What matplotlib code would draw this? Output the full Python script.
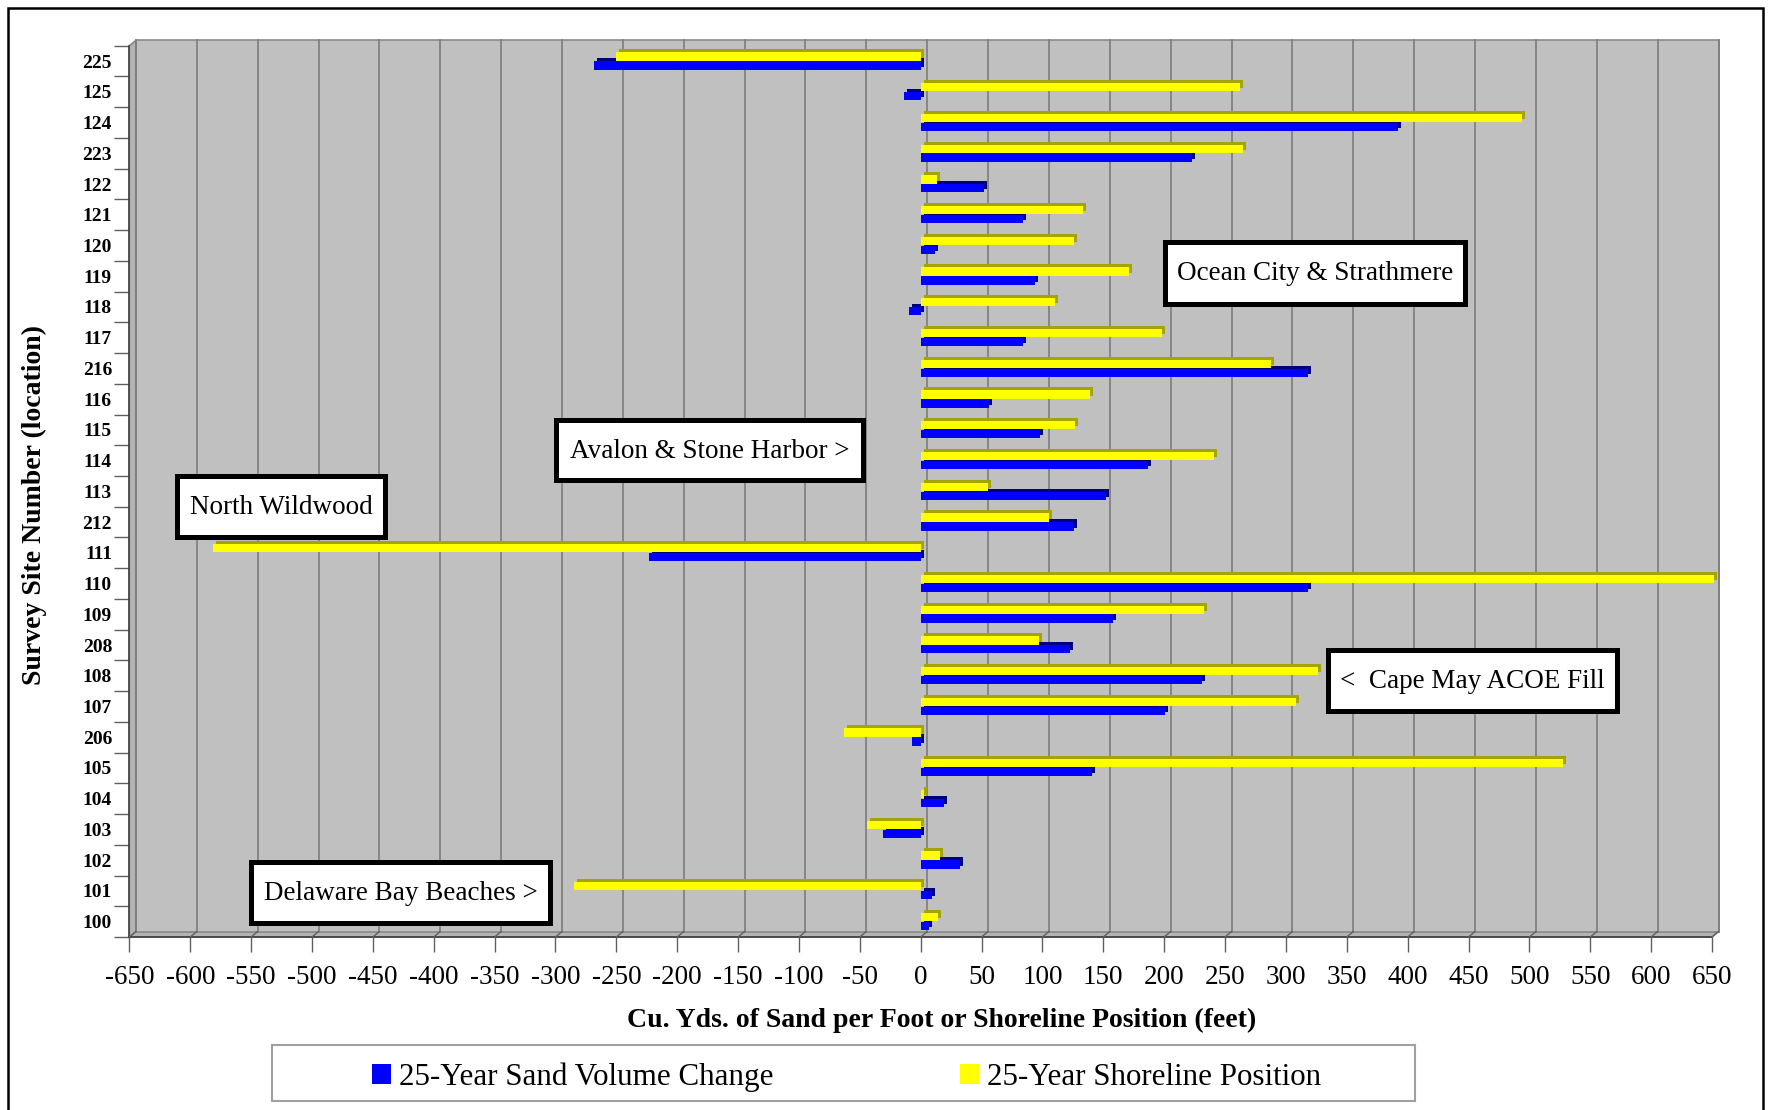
import matplotlib
matplotlib.use('Agg')
import matplotlib.pyplot as plt
import numpy as np
from matplotlib.patches import Rectangle, Polygon, Patch
from matplotlib.transforms import ScaledTranslation

# ---------------- data ----------------
sites = ['225', '125', '124', '223', '122', '121', '120', '119', '118', '117',
         '216', '116', '115', '114', '113', '212', '111', '110', '109', '208',
         '108', '107', '206', '105', '104', '103', '102', '101', '100']
sand_volume = [-268, -14, 392, 223, 52, 84, 12, 94, -10, 84,
               318, 56, 98, 187, 152, 126, -223, 318, 158, 123,
               231, 201, -7, 141, 19, -31, 32, 9, 7]
shoreline = [-250, 262, 494, 265, 13, 133, 126, 171, 110, 198,
             288, 139, 127, 241, 55, 105, -581, 652, 233, 97,
             326, 308, -63, 528, 3, -44, 16, -285, 14]
x_ticks = list(range(-650, 651, 50))
series_names = ['25-Year Sand Volume Change', '25-Year Shoreline Position']
x_title = 'Cu. Yds. of Sand per Foot or Shoreline Position (feet)'
y_title = 'Survey Site Number (location)'
notes = ['Ocean City & Strathmere', 'Avalon & Stone Harbor >', 'North Wildwood',
         '<  Cape May ACOE Fill', 'Delaware Bay Beaches >']

# ---------------- layout (pixels, from top-left) ----------------
W_PX, H_PX, DPI = 1769, 1110, 100
plt.rcParams['font.family'] = ['Liberation Serif', 'DejaVu Serif']

fig = plt.figure(figsize=(W_PX / DPI, H_PX / DPI), dpi=DPI)
fig.patch.set_facecolor('white')

def fx(x):
    return x / W_PX

def fy(y):
    return 1 - y / H_PX

L, R, T, B = 129.4, 1712.0, 45.7, 937.0
DX, DY = 6.5, 5.5

ax = fig.add_axes([fx(L), fy(B), fx(R) - fx(L), fy(T) - fy(B)])
ax.patch.set_visible(False)
ax.set_autoscale_on(False)
ax.set_xlim(-650, 650)
ax.set_ylim(len(sites) - 0.5, -0.5)

for k in ['top', 'right']:
    ax.spines[k].set_visible(False)
for k in ['bottom', 'left']:
    ax.spines[k].set_color('#404040')
    ax.spines[k].set_linewidth(1.2)

# back wall
wall_off = ax.transAxes + ScaledTranslation(DX / DPI, DY / DPI, fig.dpi_scale_trans)
ax.add_patch(Rectangle((0, 0), 1, 1, transform=wall_off, facecolor='#c0c0c0',
                       edgecolor='#8a8a8a', lw=1.2, zorder=0, clip_on=False))

# floor and left wall (3-D depth)
floor = Polygon([(fx(L), fy(B)), (fx(R), fy(B)), (fx(R + DX), fy(B - DY)), (fx(L + DX), fy(B - DY))],
                closed=True, transform=fig.transFigure, facecolor='#b4b4b4',
                edgecolor='#707070', lw=1.0, zorder=-1)
lwall = Polygon([(fx(L), fy(B)), (fx(L), fy(T)), (fx(L + DX), fy(T - DY)), (fx(L + DX), fy(B - DY))],
                closed=True, transform=fig.transFigure, facecolor='#b4b4b4',
                edgecolor='#808080', lw=1.0, zorder=-1)
fig.add_artist(floor)
fig.add_artist(lwall)

# gridlines on back wall + connectors on floor
grid_tr = ax.get_xaxis_transform() + ScaledTranslation(DX / DPI, DY / DPI, fig.dpi_scale_trans)
for v in x_ticks:
    ax.plot([v, v], [0, 1], transform=grid_tr, color='#7c7c7c', lw=1.2, zorder=1, clip_on=False)
    ax.annotate('', xy=(v, 0), xycoords=ax.get_xaxis_transform(),
                xytext=(DX, DY), textcoords='offset pixels',
                arrowprops=dict(arrowstyle='-', color='#606060', lw=1.0, shrinkA=0, shrinkB=0))

# bars with 3-D depth
y = np.arange(len(sites))
depth = ax.transData + ScaledTranslation(3 / DPI, 3 / DPI, fig.dpi_scale_trans)
ax.barh(y + 0.14, sand_volume, height=0.27, color='#00007a', transform=depth, zorder=3, clip_on=False)
ax.barh(y + 0.14, sand_volume, height=0.27, color='#0000ff', zorder=4, clip_on=False)
ax.barh(y - 0.15, shoreline, height=0.27, color='#a4a400', transform=depth, zorder=5, clip_on=False)
ax.barh(y - 0.15, shoreline, height=0.27, color='#ffff00', zorder=6, clip_on=False)

# ticks
ax.set_xticks(x_ticks)
ax.set_xticklabels([str(v) for v in x_ticks])
ax.tick_params(axis='x', which='major', length=11, width=1, color='#606060',
               labelsize=19.5, pad=9)
ax.set_yticks(y)
ax.set_yticklabels(sites, fontweight='bold')
ax.tick_params(axis='y', which='major', length=0, labelsize=14, pad=12.5)
ax.set_yticks(np.arange(-0.5, len(sites), 1.0), minor=True)
ax.tick_params(axis='y', which='minor', length=10.5, width=1, color='#606060')

# axis titles
fig.text(fx(942), fy(1020), x_title, ha='center', va='center', fontsize=20, fontweight='bold')
fig.text(fx(34), fy(505), y_title, ha='center', va='center', rotation=90,
         fontsize=20, fontweight='bold')

# annotation boxes (x0, x1, y0, y1) in px
boxes = [(1165, 1465, 242, 304),
         (556, 863, 420, 480),
         (177, 385, 476, 537),
         (1328, 1617, 650, 711),
         (251, 550, 862, 923)]
for txt, (x0, x1, y0, y1) in zip(notes, boxes):
    fig.add_artist(Rectangle((fx(x0), fy(y1)), fx(x1) - fx(x0), fy(y0) - fy(y1),
                             transform=fig.transFigure, facecolor='white',
                             edgecolor='black', lw=3.6, zorder=5))
    fig.text(fx((x0 + x1) / 2), fy((y0 + y1) / 2 + 1), txt, ha='center', va='center',
             fontsize=19.5, zorder=6)

# legend
fig.add_artist(Rectangle((fx(272), fy(1101)), fx(1415) - fx(272), fy(1045) - fy(1101),
                         transform=fig.transFigure, facecolor='white',
                         edgecolor='#a0a0a0', lw=1.5, zorder=2))
handles = [Patch(facecolor='#0000ff'), Patch(facecolor='#ffff00')]
leg = fig.legend(handles, series_names, loc='center left',
                 bbox_to_anchor=(fx(372), fy(1077)), frameon=False, ncol=2,
                 fontsize=22.3, handlelength=0.62, handleheight=0.62,
                 handletextpad=0.26, columnspacing=6.0, borderpad=0, borderaxespad=0)
leg.set_zorder(3)

# outer border
fig.add_artist(Rectangle((fx(8), fy(1140)), fx(1763) - fx(8), fy(8) - fy(1140),
                         transform=fig.transFigure, fill=False, edgecolor='black',
                         lw=1.8, zorder=10, clip_on=False))

fig.savefig('out.png', dpi=DPI)
